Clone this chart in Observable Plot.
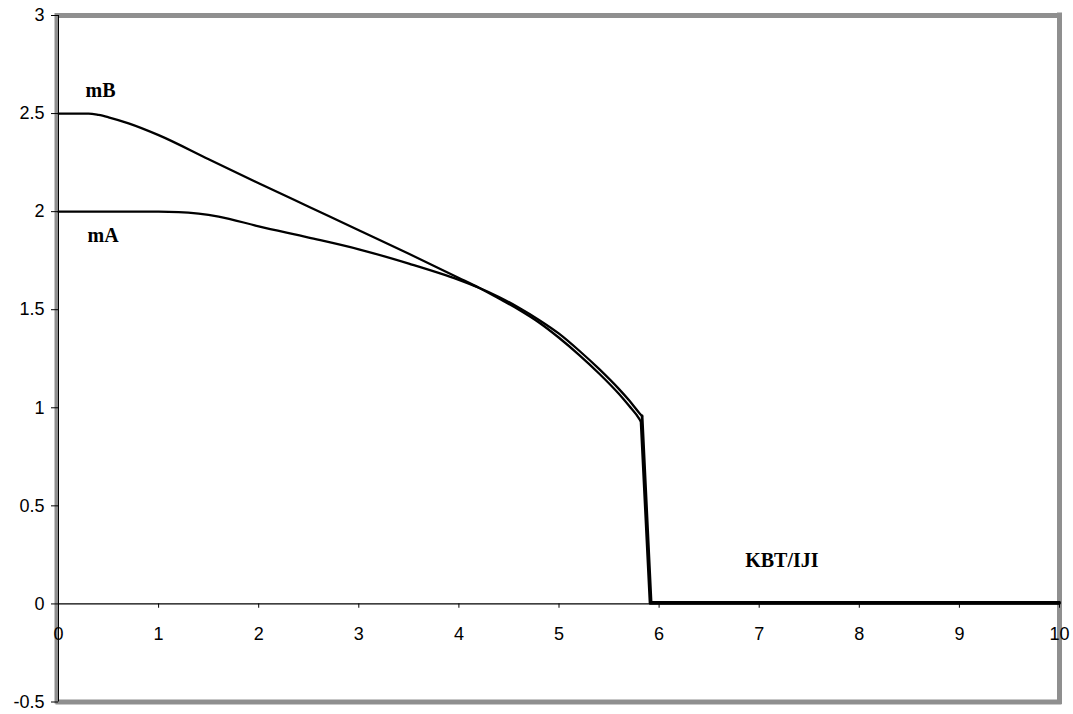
<!DOCTYPE html>
<html>
<head>
<meta charset="utf-8">
<script src="https://cdn.jsdelivr.net/npm/d3@7"></script>
<script src="https://cdn.jsdelivr.net/npm/@observablehq/plot@0.6"></script>
<style>
  html, body { margin: 0; padding: 0; background: #fff; }
  #chart svg { display: block; }
</style>
</head>
<body>
<div id="chart"></div>
<script>
// ---- data ----
const xTicks = [0, 1, 2, 3, 4, 5, 6, 7, 8, 9, 10];
const yTicks = [-0.5, 0, 0.5, 1, 1.5, 2, 2.5, 3];

const tA = [0, 0.5, 1.0, 1.2, 1.4, 1.6, 2.0, 2.5, 3.0, 3.5, 4.0, 4.2, 4.4, 4.6, 4.8, 5.0, 5.2, 5.4, 5.6, 5.7, 5.8, 5.83, 5.92, 7, 8, 9, 10];
const mA = [2.0, 2.0, 2.0, 1.998, 1.99, 1.975, 1.925, 1.868, 1.808, 1.735, 1.652, 1.612, 1.565, 1.51, 1.448, 1.378, 1.292, 1.198, 1.095, 1.038, 0.975, 0.958, 0.008, 0.008, 0.008, 0.008, 0.008];

const tB = [0, 0.3, 0.4, 0.5, 0.7, 1.0, 1.5, 2.0, 2.5, 3.0, 3.5, 4.0, 4.2, 4.4, 4.6, 4.8, 5.0, 5.2, 5.4, 5.6, 5.7, 5.8, 5.82, 5.91, 7, 8, 9, 10];
const mB = [2.5, 2.5, 2.493, 2.481, 2.45, 2.39, 2.267, 2.145, 2.025, 1.905, 1.785, 1.662, 1.612, 1.557, 1.50, 1.435, 1.357, 1.27, 1.175, 1.07, 1.01, 0.945, 0.928, 0.003, 0.003, 0.003, 0.003, 0.003];

// index where the smooth branch ends (start of the drop)
const endA = 21, endB = 22;

const labelMain = ["m", "m", "K"];
const labelSub = ["B", "A", "B"];
const labelRest = ["", "", "T/IJI"];
const labelX = [0.27, 0.29, 6.86];
const labelY = [2.582, 1.843, 0.186];

// ---- tables ----
const dataA = tA.map((t, i) => ({t, m: mA[i]}));
const dataB = tB.map((t, i) => ({t, m: mB[i]}));
const smoothA = dataA.slice(0, endA + 1), dropA = dataA.slice(endA);
const smoothB = dataB.slice(0, endB + 1), dropB = dataB.slice(endB);
const labels = labelMain.map((s, i) => ({main: s, sub: labelSub[i], rest: labelRest[i], x: labelX[i], y: labelY[i]}));

const gray = "#8f8f8f";
const lw = 2.3;

const plot = Plot.plot({
  width: 1073,
  height: 714,
  marginLeft: 58,
  marginRight: 14,
  marginTop: 15,
  marginBottom: 12.5,
  style: {background: "#fff", fontFamily: "'Liberation Sans', Arial, sans-serif", fontSize: "18px", color: "#000"},
  x: {domain: [0, 10], axis: null},
  y: {domain: [-0.5, 3], axis: null},
  marks: [
    // gray frame
    Plot.ruleY([3, -0.5], {stroke: gray, strokeWidth: 5, strokeLinecap: "square"}),
    Plot.ruleX([10], {stroke: gray, strokeWidth: 5, strokeLinecap: "square"}),
    Plot.ruleX([0], {stroke: gray, strokeWidth: 4, dx: -2, strokeLinecap: "square"}),
    // y axis
    Plot.ruleX([0], {stroke: "#000", strokeWidth: 1}),
    Plot.axisY({ticks: yTicks, tickSize: 7, tickPadding: 7, tickFormat: d => String(d), fontSize: 18, stroke: "#000", fill: "#000"}),
    // x axis at y = 0
    Plot.ruleY([0], {stroke: "#000", strokeWidth: 1.2}),
    Plot.ruleX(xTicks, {x: d => d, y1: 0, y2: -0.022, stroke: "#000", strokeWidth: 1}),
    Plot.text(xTicks, {x: d => d, y: 0, dy: 30, text: d => String(d), fontSize: 18, fill: "#000"}),
    // curves
    Plot.line(smoothB, {x: "t", y: "m", stroke: "#000", strokeWidth: lw, curve: "monotone-x"}),
    Plot.line(smoothA, {x: "t", y: "m", stroke: "#000", strokeWidth: lw, curve: "monotone-x"}),
    Plot.line(dropB, {x: "t", y: "m", stroke: "#000", strokeWidth: 2.8}),
    Plot.line(dropA, {x: "t", y: "m", stroke: "#000", strokeWidth: 2.8}),
    // labels
    Plot.text(labels, {x: "x", y: "y", text: d => d.main + d.sub + d.rest, textAnchor: "start", lineAnchor: "bottom",
      fontFamily: "'Liberation Serif', 'Times New Roman', serif", fontWeight: "bold", fontSize: 20, fill: "#000", ariaLabel: "curve-labels"})
  ]
});

// split label text into tspans (small capitals for the subscript letter)
d3.select(plot).select('g[aria-label="curve-labels"]').selectAll("text").each(function(_, i) {
  const d = labels[i];
  const t = d3.select(this);
  t.text(null);
  t.append("tspan").text(d.main);
  t.append("tspan").attr("font-size", 14).text(d.sub);
  if (d.rest) t.append("tspan").text(d.rest);
});

document.getElementById("chart").appendChild(plot);
</script>
</body>
</html>
